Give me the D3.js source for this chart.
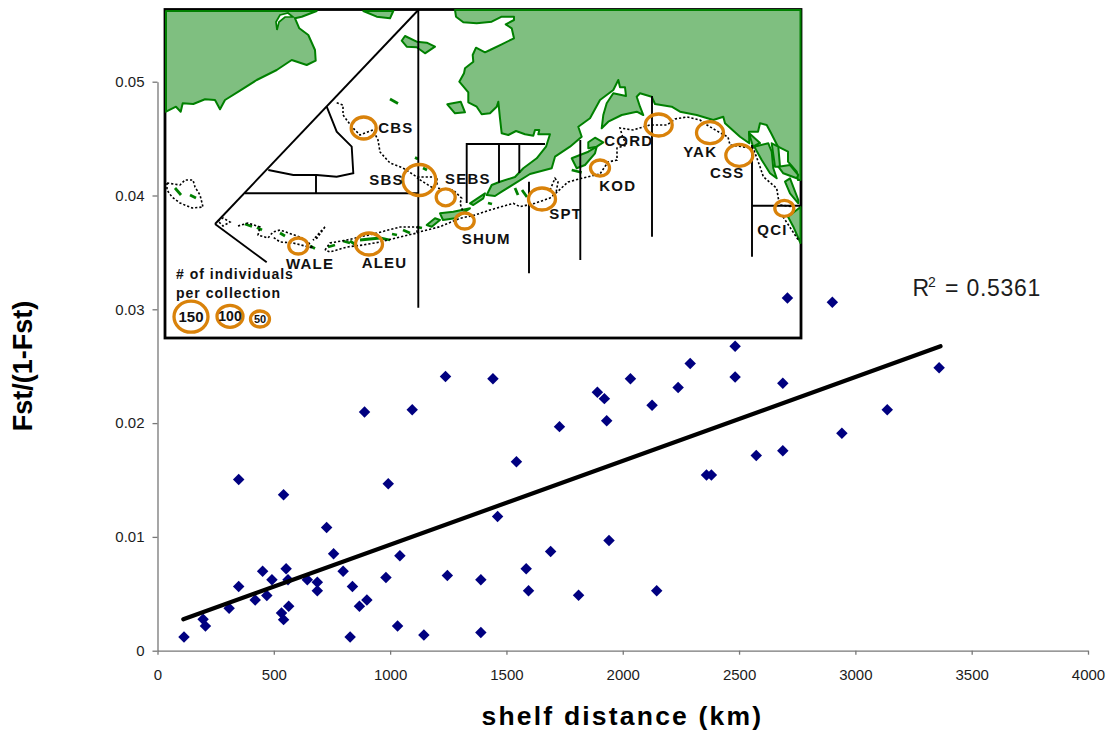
<!DOCTYPE html>
<html><head><meta charset="utf-8">
<script src="https://cdn.jsdelivr.net/npm/d3@7"></script>
<style>html,body{margin:0;padding:0;background:#fff}svg{display:block}text{font-family:"Liberation Sans",Arial,sans-serif}</style>
</head><body><div id="c"></div>
<script>
// ---- scatter data ----
const shelfDistance=[114,196,206,308,349,420,452,470,492,533,542,553,561,564,644,687,687,727,757,798,838,828,868,900,890,349,542,992,1095,982,1042,1032,1145,1238,1246,1390,1390,1442,1462,1543,1585,1595,1690,1810,1941,2146,1728,1891,1921,1931,2033,2126,2238,2290,2483,2483,2688,2708,2901,3360,3137,2942,2688,2574,2360,2381];
const fstRatio=[.00121,.00276,.00216,.00373,.00564,.00446,.00699,.00485,.00623,.00332,.00273,.0072,.00623,.00391,.00623,.00602,.00526,.01082,.00852,.00699,.00564,.00121,.00391,.00446,.02098,.01504,.0137,.01467,.02118,.00643,.00834,.00217,.00138,.02409,.00661,.00623,.00159,.02389,.01179,.0166,.0072,.00526,.00872,.00488,.00969,.00526,.01969,.02271,.02215,.02021,.02389,.02157,.02312,.02524,.02676,.02406,.02351,.03099,.03061,.02486,.02118,.0191,.01757,.01716,.01543,.01543];
const trendX=[111,3366];
const trendY=[.00276,.02675];
const xTickValues=[0,500,1000,1500,2000,2500,3000,3500,4000];
const yTickValues=[0,.01,.02,.03,.04,.05];
// ---- map data (tracing units of the inset map) ----
const siberia=[[166,11],[316.7,11],[301.7,16.7],[295,18.3],[299.3,28.3],[308.3,35],[315,50],[315.7,60.7],[306.7,65],[291.7,60],[276.7,70],[256.7,80],[240,90.7],[225,100],[220,109.3],[215,100],[205,99.3],[193.3,104],[182.7,103.3],[180.7,111.7],[176,106.7],[166,111.7]];
const siberiaInlet=[[280,15],[288,13],[293,17],[285,17],[279,22],[277,30],[276,22]];
const alaska=[[455,10],[456,16.7],[463.3,22.3],[476.7,23.3],[486.7,22.3],[491.7,21.7],[501.7,16.7],[514,16.7],[514,20],[505.7,24.3],[511.7,28.3],[514,38.3],[501.7,44.3],[490,50],[485,52.3],[476,47.7],[472.7,55],[473.3,61.7],[465,68.3],[464,73.3],[459.3,81.7],[468.3,92.3],[468.3,102.3],[476.7,106.7],[481.7,114.3],[490,113.3],[496.7,106.7],[498.3,101.7],[500,118.3],[501.7,133.3],[508.3,135],[516,131],[525,134.3],[533.3,135.7],[535,130],[539.3,130],[538.3,134.3],[550,134.3],[546,146.7],[536.7,158.3],[523.3,168.3],[515,177],[500,181.7],[491.7,185],[486.7,195],[495,196],[501.7,191.7],[515,183.3],[530,174],[551.7,168.3],[555,156.7],[570,146.7],[581.7,136.7],[578.3,126.7],[590,118.3],[600,100],[613.3,90],[618.3,80],[620,87.3],[625,87.3],[626,96],[613.3,93.3],[606.7,103.3],[603.3,115],[601.7,128.3],[608.3,121.7],[621.7,115],[636.7,111.7],[643.3,115],[640,106.7],[636.7,96.7],[640,93.3],[651.7,96.7],[655,104],[671.7,106.7],[680,111.7],[696.7,115],[713.3,120],[723.3,116.7],[725,123.3],[740,136.7],[749.3,143.3],[749,131.7],[758,131.7],[760,123.3],[766.7,125],[771,133],[778,146.7],[788,151.7],[788,161.7],[796.7,171.7],[798,180],[800.5,180],[800.5,10]];
const islands=[
[[754.3,146.7],[768.3,143.3],[771.7,151.7],[773.3,168.3],[776.7,178.3],[770,173.3],[761.7,160]],
[[771.7,143.3],[778.3,146.7],[780,166.7],[775,166.7]],
[[749,133],[760,143],[753,146.7]],
[[778.3,166.7],[790,165],[798.3,175],[796.7,178.3],[783.3,173.3]],
[[785,181.7],[790,178.3],[798.3,200],[798.3,203.3],[790,193.3]],
[[788,216.7],[800.5,207],[800.5,243],[793.3,226.7]],
[[571.7,158.3],[588.3,151.7],[596.7,146.7],[595,153.3],[585,165],[576.7,168.3]],
[[588.3,142.3],[595,137.7],[603.3,142.3],[596.7,146.7],[588.3,148.3]],
[[447.3,104.3],[460.7,101.7],[465,112.3],[455,113.3]],
[[401.7,40.7],[405,36],[416.7,41.7],[426.7,42.7],[435,46.7],[425,53.3],[416.7,47.3],[406.7,46.7]],
[[363.3,11],[393.3,11],[390,18.3],[376.7,16.7]],
[[470,203.3],[485,193.3],[483.3,198.3],[473.3,205]],
[[440,213.3],[453.3,211.7],[470,208.3],[455,218.3],[443,220]],
[[426.7,225],[435,218.3],[440,220],[431.7,226.7]]
];
const islets=[
[[175,188],[181,195]],[[190,195],[196,198]],[[245,224],[252,226.5]],[[257,227.5],[262,230]],[[280,233],[285,236]],[[310,246],[315,248.5]],[[328,247],[335,245]],[[343,241],[350,243]],[[350,241],[356,245]],[[360,240],[380,238],[390,240]],[[392,234],[397,235]],[[403,230],[410,233]],[[417,227],[422,228]],[[423,168],[427,170]],[[415,157.5],[418,159]],[[390,99],[398,103.5]],[[571.7,170],[581.7,172.5]],[[515,188],[518,195]],[[522,190],[527,197]],[[488,203],[492,204]]
];
const dottedLines=[
[[167,183],[180,185],[185,180],[193,180],[195,187],[200,195],[203,207],[192,208],[180,203],[172,197],[167,190],[167,183]],
[[218,221],[223,218],[230,222],[223,226],[218,221]],
[[238,226],[248,223],[260,227],[258,235],[268,238],[273,232],[280,230],[300,237],[308,242],[313,248],[293,243],[280,242],[273,237]],
[[325,227],[317,238],[313,240],[322,230],[325,227]],
[[325,250],[330,243],[347,240],[377,233],[400,227],[417,227],[417,233],[400,237],[380,242],[363,245],[347,247],[330,252],[325,250]],
[[417,233],[420,231.7],[440,226.7],[460,218.3],[475,215],[490,210],[513.3,203.3],[520,206.7],[535,203.3],[550,198],[556,193],[568,182],[581.7,178.3],[600,174],[608,162],[617,160],[617,148],[627,145],[623,138],[620,128],[633,130],[643,127],[650,125],[667,125],[675,119],[687,117],[700,120],[707,125],[720,132.7],[728,137],[730,145],[753.3,148.3],[760,166.7],[763.3,176.7],[776.7,188.3],[778.3,198.3],[780,205],[793,206.7]],
[[550,190],[555,178.3],[558,182],[556,193]],
[[783,216.7],[798.3,240]],
[[336.7,102.7],[343,105],[343,115],[352,127],[360,135],[373,130],[378,140],[380,152],[390,163],[403,168],[417,177],[437,177],[437,185],[433,188],[417,178]],
[[438,188.3],[453.3,190],[461.7,198.3],[460,203.3],[463,211.7]]
];
const statLines=[
[[215,224],[418.3,10]],[[215,224],[266.7,262.3]],[[418.3,10],[418.3,307.7]],[[245,193.3],[418.3,193.3]],
[[326.7,106.7],[336.7,131.7],[351.7,146.7],[353.3,173.3],[336.7,176.7],[316.7,175],[293.3,175],[268.3,170]],
[[316,175],[316,193.3]],
[[466.7,203],[466.7,144],[545,144]],[[499,144],[499,182.7]],[[519.3,144],[519.3,173]],
[[529,181.7],[529,273.3]],[[580.3,140],[580.3,260]],[[652,96],[652,236.7]],[[752,145],[752,256.7]],[[752,205.7],[800,205.7]]
];
const rings=[[363.7,128,12.5,11],[419.3,180,16.5,15.5],[445.7,197.3,9.5,8.5],[464.7,221,9.5,8],[298.3,246,9.5,8],[369,244,13.5,11],[542,199,13.5,11],[600,168,9.5,8],[658.7,125,13.5,11],[710,132.7,13.5,11],[739.3,155.3,13.5,11],[784.3,208.3,9.5,8],[191,316.7,17,15.5],[230,316.3,13,11],[260,319,9.5,8]];
const areaNames=["CBS","SBS","SEBS","SHUM","WALE","ALEU","SPT","KOD","CORD","YAK","CSS","QCI"];
const areaX=[378.3,369.3,445,461.7,286,361.7,549.3,599.3,604.3,683.3,710,757.3];
const areaY=[132.7,185,184,244.3,269.3,267.7,219.3,190.7,145.7,157.3,178.3,235];

const W=1108,H=732;
const svg=d3.select("#c").append("svg").attr("width",W).attr("height",H);
const x=d3.scaleLinear().domain([0,4000]).range([157.5,1088]);
const y=d3.scaleLinear().domain([0,.05]).range([650.7,81.7]);
const mx=d3.scaleLinear().domain([165,802]).range([165,802]);
const my=d3.scaleLinear().domain([9,339]).range([9,339]);
const ml=d3.line().x(d=>mx(d[0])).y(d=>my(d[1]));
const closed=p=>ml(p)+"Z";

// axes
const axX=svg.append("g").attr("transform",`translate(0,${y(0)})`).call(d3.axisBottom(x).tickValues(xTickValues).tickSize(4).tickSizeOuter(0).tickPadding(14.5).tickFormat(d3.format("d")));
const axY=svg.append("g").attr("transform",`translate(${x(0)},0)`).call(d3.axisLeft(y).tickValues(yTickValues).tickSize(5).tickSizeOuter(0).tickPadding(8).tickFormat(d=>d===0?"0":d3.format(".2f")(d)));
[axX,axY].forEach(a=>{a.selectAll("path,line").attr("stroke","#777").attr("stroke-width",1.3);a.selectAll("text").attr("fill","#1c1c1c").style("font-size","15px").style("font-family",'"Liberation Sans",Arial,sans-serif');});

// inset map
const map=svg.append("g");
map.append("rect").attr("x",mx(165)).attr("y",my(9.5)).attr("width",mx(801)-mx(165)).attr("height",my(338)-my(9.5)).attr("fill","#fff").attr("stroke","#000").attr("stroke-width",2.8);
const landFill="#7fbf80",landLine="#008000";
map.selectAll(".land").data([siberia,alaska,...islands]).join("path").attr("d",closed).attr("fill",landFill).attr("stroke",landLine).attr("stroke-width",2).attr("stroke-linejoin","round");
map.append("path").attr("d",closed(siberiaInlet)).attr("fill","#fff").attr("stroke",landLine).attr("stroke-width",1.7);
map.selectAll(".islet").data(islets).join("path").attr("d",ml).attr("fill","none").attr("stroke",landLine).attr("stroke-width",2.8);
map.selectAll(".stat").data(statLines).join("path").attr("d",ml).attr("fill","none").attr("stroke","#000").attr("stroke-width",1.9);
map.selectAll(".dot").data(dottedLines).join("path").attr("d",ml).attr("fill","none").attr("stroke","#000").attr("stroke-width",1.6).attr("stroke-dasharray","2.2 2");
map.selectAll(".ring").data(rings).join("ellipse").attr("cx",d=>mx(d[0])).attr("cy",d=>my(d[1])).attr("rx",d=>d[2]).attr("ry",d=>d[3]).attr("fill","none").attr("stroke","#d9820a").attr("stroke-width",3.3);
map.selectAll(".area").data(areaNames).join("text").attr("x",(d,i)=>mx(areaX[i])).attr("y",(d,i)=>my(areaY[i])).text(d=>d).attr("font-size",15).attr("font-weight","bold").attr("letter-spacing",1.2).attr("fill","#111");
map.append("text").attr("x",mx(176)).attr("y",my(279.3)).text("# of individuals").attr("font-size",14).attr("font-weight","bold").attr("letter-spacing",1).attr("fill","#111");
map.append("text").attr("x",mx(176)).attr("y",my(297.7)).text("per collection").attr("font-size",14).attr("font-weight","bold").attr("letter-spacing",1).attr("fill","#111");
[["150",191,321.7,15],["100",230,320.7,14],["50",260,323,11]].forEach(t=>map.append("text").attr("x",mx(t[1])).attr("y",my(t[2])).attr("text-anchor","middle").text(t[0]).attr("font-size",t[3]).attr("font-weight","bold").attr("fill","#111"));

// points & trend
const sym=d3.symbol().type(d3.symbolDiamond2).size(84);
svg.append("g").selectAll("path").data(shelfDistance).join("path").attr("d",sym).attr("transform",(d,i)=>`translate(${x(d)},${y(fstRatio[i])})`).attr("fill","#000080");
svg.append("path").attr("d",d3.line().x(d=>x(d[0])).y(d=>y(d[1]))(d3.zip(trendX,trendY))).attr("stroke","#000").attr("stroke-width",4.2).attr("stroke-linecap","round").attr("fill","none");

// titles
svg.append("text").attr("transform","translate(32,366) rotate(-90)").attr("text-anchor","middle").text("Fst/(1-Fst)").attr("font-size",27).attr("font-weight","bold").attr("fill","#000");
svg.append("text").attr("x",481.5).attr("y",725).text("shelf distance (km)").attr("font-size",26.5).attr("font-weight","bold").attr("letter-spacing",2.2).attr("fill","#000");
const r2=svg.append("text").attr("y",295.7).attr("font-size",23).attr("fill","#1c1c1c");
r2.append("tspan").attr("x",912.5).text("R");
r2.append("tspan").attr("x",928).attr("font-size",14).attr("dy",-9).text("2");
r2.append("tspan").attr("x",945).attr("dy",9).text("=");
r2.append("tspan").attr("x",966.5).attr("letter-spacing",.7).text("0.5361");
</script></body></html>
